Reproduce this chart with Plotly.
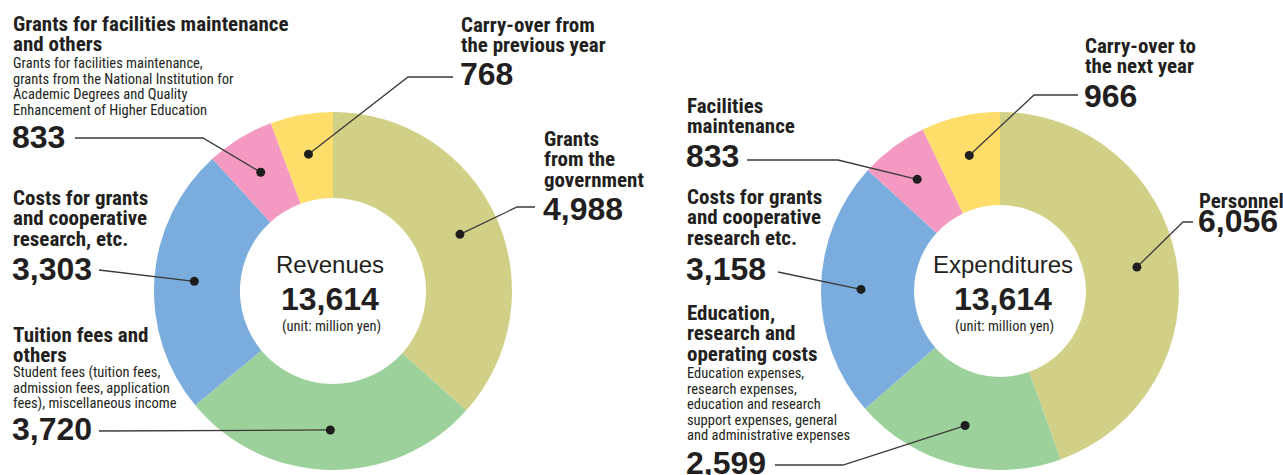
import math
import plotly.graph_objects as go

# ---------------- data ----------------
rev_labels = ["Grants from the government", "Tuition fees and others",
              "Costs for grants and cooperative research, etc.",
              "Grants for facilities maintenance and others",
              "Carry-over from the previous year"]
rev_values = [4988, 3720, 3303, 833, 768]
rev_heads = [["Grants", "from the", "government"],
             ["Tuition fees and", "others"],
             ["Costs for grants", "and cooperative", "research, etc."],
             ["Grants for facilities maintenance", "and others"],
             ["Carry-over from", "the previous year"]]
rev_notes = [[],
             ["Student fees (tuition fees,", "admission fees, application",
              "fees), miscellaneous income"],
             [],
             ["Grants for facilities maintenance,",
              "grants from the National Institution for",
              "Academic Degrees and Quality",
              "Enhancement of Higher Education"],
             []]

exp_labels = ["Personnel", "Education, research and operating costs",
              "Costs for grants and cooperative research etc.",
              "Facilities maintenance", "Carry-over to the next year"]
exp_values = [6056, 2599, 3158, 833, 966]
exp_heads = [["Personnel"],
             ["Education,", "research and", "operating costs"],
             ["Costs for grants", "and cooperative", "research etc."],
             ["Facilities", "maintenance"],
             ["Carry-over to", "the next year"]]
exp_notes = [[],
             ["Education expenses,", "research expenses,",
              "education and research", "support expenses, general",
              "and administrative expenses"],
             [], [], []]

center_titles = ["Revenues", "Expenditures"]
center_totals = ["13,614", "13,614"]
unit_text = "(unit: million yen)"

colors = ["#D2CF86", "#9DD19C", "#7AADDD", "#F49AC2", "#FEDD6B"]

# ---------------- layout / style ----------------
W, H = 1283, 475
TXT = "#231F20"
LINE = "#3A3A3A"
NARROW = "Liberation Sans Narrow, Arial Narrow, Roboto Condensed, Liberation Sans, sans-serif"
SANS = "Liberation Sans, Arial, sans-serif"

donuts = [
    dict(cx=333, cy=291, r=179, hole=0.52, dot_r=139, tcx=330),
    dict(cx=1000, cy=291, r=179, hole=0.48, dot_r=139, tcx=1003),
]

# label block positions: x, heading baseline start, note baseline start, number baseline,
# leader start (x, y), elbow x (or None)
rev_pos = [
    dict(x=543, hb=146, nb=None, vb=220, lx=535, ly=207, ex=517),
    dict(x=12, hb=342, nb=378, vb=440, lx=99, ly=431, ex=None),
    dict(x=12, hb=205, nb=None, vb=280, lx=99, ly=270, ex=None),
    dict(x=12, hb=31, nb=69, vb=148, lx=75, ly=138, ex=203),
    dict(x=460, hb=32, nb=None, vb=85, lx=453, ly=77, ex=408),
]
exp_pos = [
    dict(x=1198, hb=208, nb=None, vb=232, lx=1193, ly=222, ex=1183),
    dict(x=686, hb=320, nb=379, vb=474, lx=775, ly=465, ex=843),
    dict(x=686, hb=204, nb=None, vb=280, lx=778, ly=272, ex=None),
    dict(x=686, hb=113, nb=None, vb=167, lx=747, ly=160, ex=838),
    dict(x=1084, hb=53, nb=None, vb=107, lx=1078, ly=95, ex=1034),
]
HEAD_STEP = 20.7
NOTE_STEP = 15.5
HEAD_SIZE = 21
NOTE_SIZE = 14.5
NUM_SIZE = 32

fig = go.Figure()


def px(x):
    return x / W


def py(y):
    return 1 - y / H


def add_text(x, baseline, s, size, bold=False, family=NARROW, anchor="left"):
    ymid = baseline - 0.35 * size
    fig.add_annotation(x=px(x), y=py(ymid), xref="paper", yref="paper",
                       text=f"<b>{s}</b>" if bold else s, showarrow=False,
                       xanchor=anchor, yanchor="middle", borderpad=0,
                       font=dict(family=family, size=size, color=TXT))


datasets = [
    (rev_labels, rev_values, rev_heads, rev_notes, rev_pos),
    (exp_labels, exp_values, exp_heads, exp_notes, exp_pos),
]

for k, (labels, values, heads, notes, pos) in enumerate(datasets):
    d = donuts[k]
    fig.add_trace(go.Pie(
        labels=labels, values=values, hole=d["hole"], sort=False,
        direction="clockwise", rotation=0,
        marker=dict(colors=colors, line=dict(width=0)),
        textinfo="none", hoverinfo="label+value", showlegend=False,
        domain=dict(x=[px(d["cx"] - d["r"]), px(d["cx"] + d["r"])],
                    y=[py(d["cy"] + d["r"]), py(d["cy"] - d["r"])]),
    ))
    total = sum(values)
    cum = 0
    for i, v in enumerate(values):
        a = (cum + v / 2) / total * 2 * math.pi
        cum += v
        dx = d["cx"] + d["dot_r"] * math.sin(a)
        dy = d["cy"] - d["dot_r"] * math.cos(a)
        p = pos[i]
        # leader line
        pts = [(p["lx"], p["ly"])]
        if p["ex"] is not None:
            pts.append((p["ex"], p["ly"]))
        pts.append((dx, dy))
        path = "M " + " L ".join(f"{px(x):.5f},{py(y):.5f}" for x, y in pts)
        fig.add_shape(type="path", path=path, xref="paper", yref="paper",
                      line=dict(color=LINE, width=1.3), layer="above")
        rr = 4.5
        fig.add_shape(type="circle", xref="paper", yref="paper",
                      x0=px(dx - rr), x1=px(dx + rr), y0=py(dy + rr), y1=py(dy - rr),
                      fillcolor="#1E1E1E", line=dict(width=0), layer="above")
        # label texts
        for j, line in enumerate(heads[i]):
            add_text(p["x"], p["hb"] + j * HEAD_STEP, line, HEAD_SIZE, bold=True)
        for j, line in enumerate(notes[i]):
            add_text(p["x"], p["nb"] + j * NOTE_STEP, line, NOTE_SIZE)
        add_text(p["x"] - 1, p["vb"], f"{v:,}", NUM_SIZE, bold=True, family=SANS)

    # centre texts
    add_text(d["tcx"], 273, center_titles[k], 24, family=SANS, anchor="center")
    add_text(d["tcx"], 310, center_totals[k], 32, bold=True, family=SANS, anchor="center")
    add_text(d["tcx"] + 1, 332, unit_text, 14.5, family=NARROW, anchor="center")

fig.update_layout(width=W, height=H, margin=dict(l=0, r=0, t=0, b=0),
                  paper_bgcolor="white", plot_bgcolor="white")
fig.write_html("out.html", config={"displayModeBar": False},
               post_script="document.body.style.margin='0';"
                           "document.body.style.overflow='hidden';")
